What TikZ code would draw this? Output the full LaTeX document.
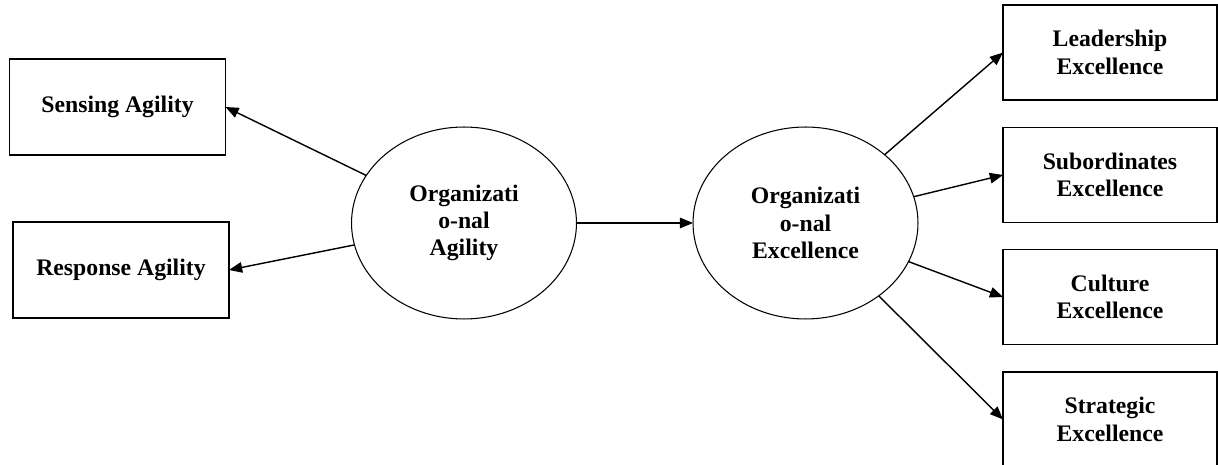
\documentclass[tikz,border=0pt]{standalone}
\usepackage{fontspec}
\setmainfont{Liberation Serif}
\usepackage{tikz}
\usetikzlibrary{shapes,arrows.meta}

\tikzset{
	factor/.style={draw,rectangle,line width=0.7pt,inner sep=0pt,outer sep=0pt,
		minimum width=4.32cm,minimum height=1.92cm,align=center,
		font=\fontsize{13.5}{15.5}\selectfont\bfseries},
	latent/.style={draw,ellipse,line width=0.6pt,inner sep=0pt,outer sep=0pt,
		minimum width=4.5cm,minimum height=3.84cm,align=center,
		font=\fontsize{13.5}{15.5}\selectfont\bfseries}
}

\begin{document}
\begin{tikzpicture}[x=0.02cm,y=-0.02cm]
		\useasboundingbox (0,0) rectangle (1218,465);
		\node[factor] (S) at (117.5,107) {Sensing Agility};
		\node[factor] (R) at (121,270) {Response Agility};
		\node[latent] (OA) at (464,223) {Organizati\\o-nal\\Agility};
		\node[latent] (OE) at (805.5,223) {Organizati\\o-nal\\Excellence};
		\node[factor,minimum width=4.28cm,minimum height=1.9cm] (L) at (1110,52.5) {Leadership\\Excellence};
		\node[factor,minimum width=4.28cm,minimum height=1.9cm] (Sub) at (1110,175) {Subordinates\\Excellence};
		\node[factor,minimum width=4.28cm,minimum height=1.9cm] (C) at (1110,297) {Culture\\Excellence};
		\node[factor,minimum width=4.28cm,minimum height=1.9cm] (St) at (1110,419.5) {Strategic\\Excellence};
		%
		\path[-{Triangle[length=7.5pt,width=6pt]},line width=0.8pt]
		% agility to its dimensions
		(OA) edge (S.east)
		(OA) edge (R.east)
		% agility to excellence
		(OA) edge (OE)
		% excellence to its dimensions
		(OE) edge (L.west)
		(OE) edge (Sub.west)
		(OE) edge (C.west)
		(OE) edge (St.west);
\end{tikzpicture}
\end{document}
